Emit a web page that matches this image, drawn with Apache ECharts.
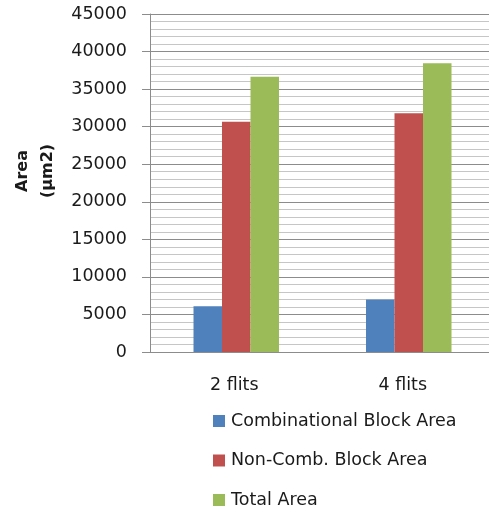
<!DOCTYPE html>
<html>
<head>
<meta charset="utf-8">
<script src="https://cdn.jsdelivr.net/npm/echarts@6/dist/echarts.min.js"></script>
<style>
  html, body { margin: 0; padding: 0; background: #ffffff; }
  #chart { width: 489px; height: 514px; }
</style>
</head>
<body>
<div id="chart"></div>
<script>
// Area breakdown per flit width
const categories = ['2 flits', '4 flits'];
const combinationalArea = [6100, 7000];
const nonCombArea = [30650, 31800];
const totalArea = [36650, 38450];
const seriesNames = ['Combinational Block Area', 'Non-Comb. Block Area', 'Total Area'];
const yTicks = { min: 0, max: 45000, step: 5000 };

const FONT = 'DejaVu Sans';
const TEXT = '#1a1a1a';
const colors = ['#4f81bd', '#c0504d', '#9bbb59'];

const chart = echarts.init(document.getElementById('chart'), null, { renderer: 'canvas' });

const makeBar = (name, data, color) => ({
  name: name,
  type: 'bar',
  data: data,
  barWidth: 28.5,
  barGap: '0%',
  itemStyle: { color: color },
  emphasis: { disabled: true }
});

chart.setOption({
  animation: false,
  color: colors,
  grid: {
    left: 150, top: 14, bottom: 162, right: -6,
    containLabel: false,
    outerBoundsMode: 'none'
  },
  legend: {
    orient: 'vertical',
    left: 208,
    top: 407,
    height: 120,
    itemWidth: 12,
    itemHeight: 12,
    itemGap: 21.5,
    icon: 'rect',
    data: seriesNames,
    textStyle: { fontFamily: FONT, fontSize: 17.5, color: TEXT, padding: [0, 0, 0, 1] }
  },
  xAxis: {
    type: 'category',
    data: categories,
    axisLine: { show: true, lineStyle: { color: '#8c8c8c', width: 1 } },
    axisTick: { show: false },
    axisLabel: {
      margin: 24,
      fontFamily: FONT,
      fontSize: 17.5,
      color: TEXT,
      formatter: (v, i) => '{c' + i + '|' + v + '}',
      rich: {
        c0: { fontFamily: FONT, fontSize: 17.5, color: TEXT, padding: [0, 4, 0, 0] },
        c1: { fontFamily: FONT, fontSize: 17.5, color: TEXT, padding: [0, 12, 0, 0] }
      }
    },
    splitLine: { show: false }
  },
  yAxis: {
    type: 'value',
    min: yTicks.min,
    max: yTicks.max,
    interval: yTicks.step,
    name: 'Area\n(µm2)',
    nameLocation: 'middle',
    nameRotate: 90,
    nameGap: 90,
    nameTextStyle: {
      fontFamily: FONT,
      fontSize: 16,
      fontWeight: 'bold',
      color: TEXT,
      lineHeight: 25,
      padding: [0, 0, 0, 24]
    },
    axisLine: { show: true, lineStyle: { color: '#8c8c8c', width: 1 } },
    axisTick: { show: true, inside: false, length: 8, lineStyle: { color: '#8c8c8c' } },
    axisLabel: {
      margin: 23, fontFamily: FONT, fontSize: 17.5, color: TEXT,
      formatter: (v) => String(v)
    },
    splitLine: { show: true, lineStyle: { color: '#8c8c8c', width: 1 } },
    minorTick: { show: false, splitNumber: 5 },
    minorSplitLine: { show: true, lineStyle: { color: '#c6c6c6', width: 1 } }
  },
  series: [
    makeBar(seriesNames[0], combinationalArea, colors[0]),
    makeBar(seriesNames[1], nonCombArea, colors[1]),
    makeBar(seriesNames[2], totalArea, colors[2])
  ]
});
</script>
</body>
</html>
